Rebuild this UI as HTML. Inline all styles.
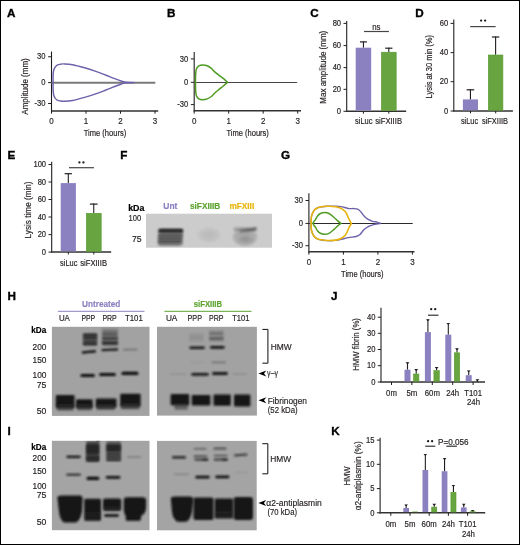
<!DOCTYPE html>
<html><head><meta charset="utf-8"><style>
html,body{margin:0;padding:0;background:#fff;}
svg{display:block;will-change:transform;}
text{font-family:"Liberation Sans", sans-serif;}
</style></head><body>
<svg width="520" height="545" viewBox="0 0 520 545">
<defs>
<radialGradient id="rg"><stop offset="0" stop-color="#333" stop-opacity="0.12"/><stop offset="0.6" stop-color="#333" stop-opacity="0.07"/><stop offset="1" stop-color="#333" stop-opacity="0"/></radialGradient>
<radialGradient id="rg2"><stop offset="0" stop-color="#333" stop-opacity="0.3"/><stop offset="0.7" stop-color="#333" stop-opacity="0.2"/><stop offset="1" stop-color="#333" stop-opacity="0"/></radialGradient>
<filter id="b1" filterUnits="userSpaceOnUse" x="0" y="0" width="520" height="545"><feGaussianBlur stdDeviation="0.85"/></filter>
<filter id="b2" filterUnits="userSpaceOnUse" x="0" y="0" width="520" height="545"><feGaussianBlur stdDeviation="1.2"/></filter>
<filter id="soft" filterUnits="userSpaceOnUse" x="0" y="0" width="520" height="545"><feGaussianBlur stdDeviation="0.3"/></filter>
<filter id="b3" filterUnits="userSpaceOnUse" x="0" y="0" width="520" height="545"><feGaussianBlur stdDeviation="2"/></filter>
<clipPath id="clipF"><rect x="146" y="213.7" width="126" height="34"/></clipPath>
<clipPath id="clipH"><rect x="51.9" y="326.8" width="97.6" height="89.1"/><rect x="157" y="326.8" width="99.9" height="88.8"/></clipPath>
<clipPath id="clipI"><rect x="51.9" y="440.8" width="97.6" height="89.4"/><rect x="157" y="440.9" width="99.7" height="89.4"/></clipPath>
</defs>
<rect x="0" y="0" width="520" height="545" fill="#fff"/>
<g filter="url(#soft)">
<text x="6.96" y="16.75" font-size="11.7" fill="#000" font-weight="bold" stroke="#000" stroke-width="0.35">A</text>
<text x="167.07" y="16.8" font-size="11.7" fill="#000" font-weight="bold" stroke="#000" stroke-width="0.35">B</text>
<text x="310.17" y="16.75" font-size="11.7" fill="#000" font-weight="bold" stroke="#000" stroke-width="0.35">C</text>
<text x="415.27" y="16.8" font-size="11.7" fill="#000" font-weight="bold" stroke="#000" stroke-width="0.35">D</text>
<text x="7.47" y="158.85" font-size="11.7" fill="#000" font-weight="bold" stroke="#000" stroke-width="0.35">E</text>
<text x="120.37" y="158.85" font-size="11.7" fill="#000" font-weight="bold" stroke="#000" stroke-width="0.35">F</text>
<text x="280.97" y="158.85" font-size="11.7" fill="#000" font-weight="bold" stroke="#000" stroke-width="0.35">G</text>
<text x="7.47" y="300" font-size="11.7" fill="#000" font-weight="bold" stroke="#000" stroke-width="0.35">H</text>
<text x="7.47" y="435" font-size="11.7" fill="#000" font-weight="bold" stroke="#000" stroke-width="0.35">I</text>
<text x="330.97" y="300.3" font-size="11.7" fill="#000" font-weight="bold" stroke="#000" stroke-width="0.35">J</text>
<text x="331.17" y="435.2" font-size="11.7" fill="#000" font-weight="bold" stroke="#000" stroke-width="0.35">K</text>
<line x1="51.5" y1="51.5" x2="51.5" y2="111.65" stroke="#231f20" stroke-width="1.1"/>
<line x1="51.0" y1="110.9" x2="158.2" y2="110.9" stroke="#333" stroke-width="1.5"/>
<line x1="48.1" y1="56.75" x2="51.5" y2="56.75" stroke="#231f20" stroke-width="1"/>
<line x1="48.1" y1="82.6" x2="51.5" y2="82.6" stroke="#231f20" stroke-width="1"/>
<line x1="48.1" y1="103.5" x2="51.5" y2="103.5" stroke="#231f20" stroke-width="1"/>
<line x1="51.5" y1="110.9" x2="51.5" y2="113.7" stroke="#231f20" stroke-width="1"/>
<line x1="86.0" y1="110.9" x2="86.0" y2="113.7" stroke="#231f20" stroke-width="1"/>
<line x1="120.5" y1="110.9" x2="120.5" y2="113.7" stroke="#231f20" stroke-width="1"/>
<line x1="155.0" y1="110.9" x2="155.0" y2="113.7" stroke="#231f20" stroke-width="1"/>
<line x1="51.5" y1="82.8" x2="155.3" y2="82.8" stroke="#7a7a7a" stroke-width="1.9"/>
<text x="45.5" y="59.35" font-size="8.74" text-anchor="end" fill="#231f20" font-weight="normal" stroke="#231f20" stroke-width="0.18" textLength="8.45" lengthAdjust="spacingAndGlyphs">30</text>
<text x="45.5" y="85.19999999999999" font-size="8.74" text-anchor="end" fill="#231f20" font-weight="normal" stroke="#231f20" stroke-width="0.18" textLength="4.23" lengthAdjust="spacingAndGlyphs">0</text>
<text x="45.5" y="106.1" font-size="8.74" text-anchor="end" fill="#231f20" font-weight="normal" stroke="#231f20" stroke-width="0.18" textLength="10.98" lengthAdjust="spacingAndGlyphs">-30</text>
<text x="51.5" y="123.9" font-size="9.2" text-anchor="middle" fill="#231f20" font-weight="normal" stroke="#231f20" stroke-width="0.18" textLength="4.45" lengthAdjust="spacingAndGlyphs">0</text>
<text x="86.0" y="123.9" font-size="9.2" text-anchor="middle" fill="#231f20" font-weight="normal" stroke="#231f20" stroke-width="0.18" textLength="4.45" lengthAdjust="spacingAndGlyphs">1</text>
<text x="120.5" y="123.9" font-size="9.2" text-anchor="middle" fill="#231f20" font-weight="normal" stroke="#231f20" stroke-width="0.18" textLength="4.45" lengthAdjust="spacingAndGlyphs">2</text>
<text x="155.0" y="123.9" font-size="9.2" text-anchor="middle" fill="#231f20" font-weight="normal" stroke="#231f20" stroke-width="0.18" textLength="4.45" lengthAdjust="spacingAndGlyphs">3</text>
<text x="104.95" y="136.1" font-size="9.2" text-anchor="middle" fill="#231f20" font-weight="normal" stroke="#231f20" stroke-width="0.18" textLength="42.5" lengthAdjust="spacingAndGlyphs">Time (hours)</text>
<text transform="translate(28.2,86.5) rotate(-90)" x="0" y="0" font-size="9.2" text-anchor="middle" fill="#231f20" stroke="#231f20" stroke-width="0.18" textLength="56.4" lengthAdjust="spacingAndGlyphs">Amplitude (mm)</text>
<path d="M53.10,82.60 C53.10,81.50 52.98,78.13 53.10,76.00 C53.22,73.87 53.22,71.55 53.80,69.80 C54.38,68.05 55.48,66.43 56.60,65.50 C57.72,64.57 59.27,64.47 60.50,64.20 C61.73,63.93 62.00,63.82 64.00,63.90 C66.00,63.98 69.07,64.05 72.50,64.70 C75.93,65.35 80.85,66.73 84.60,67.80 C88.35,68.87 91.53,69.90 95.00,71.10 C98.47,72.30 102.23,73.78 105.40,75.00 C108.57,76.22 111.40,77.40 114.00,78.40 C116.60,79.40 118.98,80.35 121.00,81.00 C123.02,81.65 123.93,82.03 126.10,82.30 C128.27,82.57 132.68,82.55 134.00,82.60" fill="none" stroke="#6d62ab" stroke-width="1.45" stroke-linecap="round"/>
<path d="M53.10,82.60 C53.10,83.70 52.98,87.07 53.10,89.20 C53.22,91.33 53.22,93.65 53.80,95.40 C54.38,97.15 55.48,98.77 56.60,99.70 C57.72,100.63 59.27,100.73 60.50,101.00 C61.73,101.27 62.00,101.38 64.00,101.30 C66.00,101.22 69.07,101.15 72.50,100.50 C75.93,99.85 80.85,98.47 84.60,97.40 C88.35,96.33 91.53,95.30 95.00,94.10 C98.47,92.90 102.23,91.42 105.40,90.20 C108.57,88.98 111.40,87.80 114.00,86.80 C116.60,85.80 118.98,84.85 121.00,84.20 C123.02,83.55 123.93,83.17 126.10,82.90 C128.27,82.63 132.68,82.65 134.00,82.60" fill="none" stroke="#6d62ab" stroke-width="1.45" stroke-linecap="round"/>
<line x1="194.2" y1="51.9" x2="194.2" y2="111.55" stroke="#231f20" stroke-width="1.1"/>
<line x1="193.7" y1="110.8" x2="301" y2="110.8" stroke="#333" stroke-width="1.5"/>
<line x1="190.79999999999998" y1="58.9" x2="194.2" y2="58.9" stroke="#231f20" stroke-width="1"/>
<line x1="190.79999999999998" y1="82.3" x2="194.2" y2="82.3" stroke="#231f20" stroke-width="1"/>
<line x1="190.79999999999998" y1="104.6" x2="194.2" y2="104.6" stroke="#231f20" stroke-width="1"/>
<line x1="194.2" y1="110.8" x2="194.2" y2="113.6" stroke="#231f20" stroke-width="1"/>
<line x1="228.7" y1="110.8" x2="228.7" y2="113.6" stroke="#231f20" stroke-width="1"/>
<line x1="263.2" y1="110.8" x2="263.2" y2="113.6" stroke="#231f20" stroke-width="1"/>
<line x1="297.7" y1="110.8" x2="297.7" y2="113.6" stroke="#231f20" stroke-width="1"/>
<line x1="194.2" y1="82.5" x2="297.2" y2="82.5" stroke="#444" stroke-width="1.2"/>
<text x="188.2" y="61.5" font-size="8.74" text-anchor="end" fill="#231f20" font-weight="normal" stroke="#231f20" stroke-width="0.18" textLength="8.45" lengthAdjust="spacingAndGlyphs">30</text>
<text x="188.2" y="84.89999999999999" font-size="8.74" text-anchor="end" fill="#231f20" font-weight="normal" stroke="#231f20" stroke-width="0.18" textLength="4.23" lengthAdjust="spacingAndGlyphs">0</text>
<text x="188.2" y="107.19999999999999" font-size="8.74" text-anchor="end" fill="#231f20" font-weight="normal" stroke="#231f20" stroke-width="0.18" textLength="10.98" lengthAdjust="spacingAndGlyphs">-30</text>
<text x="194.2" y="123.8" font-size="9.2" text-anchor="middle" fill="#231f20" font-weight="normal" stroke="#231f20" stroke-width="0.18" textLength="4.45" lengthAdjust="spacingAndGlyphs">0</text>
<text x="228.7" y="123.8" font-size="9.2" text-anchor="middle" fill="#231f20" font-weight="normal" stroke="#231f20" stroke-width="0.18" textLength="4.45" lengthAdjust="spacingAndGlyphs">1</text>
<text x="263.2" y="123.8" font-size="9.2" text-anchor="middle" fill="#231f20" font-weight="normal" stroke="#231f20" stroke-width="0.18" textLength="4.45" lengthAdjust="spacingAndGlyphs">2</text>
<text x="297.7" y="123.8" font-size="9.2" text-anchor="middle" fill="#231f20" font-weight="normal" stroke="#231f20" stroke-width="0.18" textLength="4.45" lengthAdjust="spacingAndGlyphs">3</text>
<text x="247.64999999999998" y="136.0" font-size="9.2" text-anchor="middle" fill="#231f20" font-weight="normal" stroke="#231f20" stroke-width="0.18" textLength="42.5" lengthAdjust="spacingAndGlyphs">Time (hours)</text>
<path d="M195.50,82.30 C195.52,81.08 195.45,77.22 195.60,75.00 C195.75,72.78 195.87,70.53 196.40,69.00 C196.93,67.47 197.73,66.48 198.80,65.80 C199.87,65.12 201.40,64.92 202.80,64.90 C204.20,64.88 205.82,65.17 207.20,65.70 C208.58,66.23 209.93,67.15 211.10,68.10 C212.27,69.05 212.92,70.23 214.20,71.40 C215.48,72.57 217.23,73.90 218.80,75.10 C220.37,76.30 222.17,77.42 223.60,78.60 C225.03,79.78 226.77,81.60 227.40,82.20" fill="none" stroke="#4f9b22" stroke-width="1.5" stroke-linecap="round"/>
<path d="M195.50,82.30 C195.52,83.58 195.45,87.75 195.60,90.00 C195.75,92.25 195.87,94.32 196.40,95.80 C196.93,97.28 197.77,98.25 198.80,98.90 C199.83,99.55 201.20,99.70 202.60,99.70 C204.00,99.70 205.63,99.52 207.20,98.90 C208.77,98.28 210.70,97.03 212.00,96.00 C213.30,94.97 213.72,93.88 215.00,92.70 C216.28,91.52 218.27,90.07 219.70,88.90 C221.13,87.73 222.32,86.78 223.60,85.70 C224.88,84.62 226.77,82.95 227.40,82.40" fill="none" stroke="#4f9b22" stroke-width="1.5" stroke-linecap="round"/>
<line x1="308.9" y1="193.2" x2="308.9" y2="252.55" stroke="#231f20" stroke-width="1.1"/>
<line x1="308.4" y1="251.8" x2="414.5" y2="251.8" stroke="#333" stroke-width="1.5"/>
<line x1="305.5" y1="200.5" x2="308.9" y2="200.5" stroke="#231f20" stroke-width="1"/>
<line x1="305.5" y1="223.4" x2="308.9" y2="223.4" stroke="#231f20" stroke-width="1"/>
<line x1="305.5" y1="245.7" x2="308.9" y2="245.7" stroke="#231f20" stroke-width="1"/>
<line x1="308.9" y1="251.8" x2="308.9" y2="254.60000000000002" stroke="#231f20" stroke-width="1"/>
<line x1="343.4" y1="251.8" x2="343.4" y2="254.60000000000002" stroke="#231f20" stroke-width="1"/>
<line x1="377.9" y1="251.8" x2="377.9" y2="254.60000000000002" stroke="#231f20" stroke-width="1"/>
<line x1="412.4" y1="251.8" x2="412.4" y2="254.60000000000002" stroke="#231f20" stroke-width="1"/>
<line x1="308.9" y1="223.5" x2="412.7" y2="223.5" stroke="#2a2a2a" stroke-width="1.1"/>
<text x="302.9" y="203.1" font-size="8.74" text-anchor="end" fill="#231f20" font-weight="normal" stroke="#231f20" stroke-width="0.18" textLength="8.45" lengthAdjust="spacingAndGlyphs">30</text>
<text x="302.9" y="226.0" font-size="8.74" text-anchor="end" fill="#231f20" font-weight="normal" stroke="#231f20" stroke-width="0.18" textLength="4.23" lengthAdjust="spacingAndGlyphs">0</text>
<text x="302.9" y="248.29999999999998" font-size="8.74" text-anchor="end" fill="#231f20" font-weight="normal" stroke="#231f20" stroke-width="0.18" textLength="10.98" lengthAdjust="spacingAndGlyphs">-30</text>
<text x="308.9" y="264.8" font-size="9.2" text-anchor="middle" fill="#231f20" font-weight="normal" stroke="#231f20" stroke-width="0.18" textLength="4.45" lengthAdjust="spacingAndGlyphs">0</text>
<text x="343.4" y="264.8" font-size="9.2" text-anchor="middle" fill="#231f20" font-weight="normal" stroke="#231f20" stroke-width="0.18" textLength="4.45" lengthAdjust="spacingAndGlyphs">1</text>
<text x="377.9" y="264.8" font-size="9.2" text-anchor="middle" fill="#231f20" font-weight="normal" stroke="#231f20" stroke-width="0.18" textLength="4.45" lengthAdjust="spacingAndGlyphs">2</text>
<text x="412.4" y="264.8" font-size="9.2" text-anchor="middle" fill="#231f20" font-weight="normal" stroke="#231f20" stroke-width="0.18" textLength="4.45" lengthAdjust="spacingAndGlyphs">3</text>
<text x="362.34999999999997" y="277.0" font-size="9.2" text-anchor="middle" fill="#231f20" font-weight="normal" stroke="#231f20" stroke-width="0.18" textLength="42.5" lengthAdjust="spacingAndGlyphs">Time (hours)</text>
<path d="M311.10,223.40 C311.13,222.42 311.10,219.10 311.30,217.50 C311.50,215.90 311.72,215.12 312.30,213.80 C312.88,212.48 313.62,210.70 314.80,209.60 C315.98,208.50 317.35,207.77 319.40,207.20 C321.45,206.63 324.50,206.37 327.10,206.20 C329.70,206.03 332.72,206.13 335.00,206.20 C337.28,206.27 338.88,206.30 340.80,206.60 C342.72,206.90 345.07,207.67 346.50,208.00 C347.93,208.33 348.12,208.50 349.40,208.60 C350.68,208.70 352.75,208.47 354.20,208.60 C355.65,208.73 356.97,208.83 358.10,209.40 C359.23,209.97 360.05,210.93 361.00,212.00 C361.95,213.07 362.68,214.60 363.80,215.80 C364.92,217.00 366.25,218.28 367.70,219.20 C369.15,220.12 370.90,220.82 372.50,221.30 C374.10,221.78 375.98,221.77 377.30,222.10 C378.62,222.43 379.88,223.10 380.40,223.30" fill="none" stroke="#6d62ab" stroke-width="1.4" stroke-linecap="round"/>
<path d="M311.10,223.40 C311.13,224.38 311.10,227.70 311.30,229.30 C311.50,230.90 311.72,231.68 312.30,233.00 C312.88,234.32 313.62,236.10 314.80,237.20 C315.98,238.30 317.35,239.03 319.40,239.60 C321.45,240.17 324.50,240.47 327.10,240.60 C329.70,240.73 332.08,240.75 335.00,240.40 C337.92,240.05 342.20,239.00 344.60,238.50 C347.00,238.00 347.47,237.73 349.40,237.40 C351.33,237.07 354.43,236.98 356.20,236.50 C357.97,236.02 358.73,235.62 360.00,234.50 C361.27,233.38 362.35,231.15 363.80,229.80 C365.25,228.45 367.08,227.25 368.70,226.40 C370.32,225.55 372.03,225.12 373.50,224.70 C374.97,224.28 376.35,224.10 377.50,223.90 C378.65,223.70 379.92,223.57 380.40,223.50" fill="none" stroke="#6d62ab" stroke-width="1.4" stroke-linecap="round"/>
<path d="M311.10,223.40 C311.13,222.42 311.10,219.10 311.30,217.50 C311.50,215.90 311.72,215.12 312.30,213.80 C312.88,212.48 313.62,210.70 314.80,209.60 C315.98,208.50 317.35,207.75 319.40,207.20 C321.45,206.65 324.37,206.38 327.10,206.30 C329.83,206.22 333.42,206.33 335.80,206.70 C338.18,207.07 339.83,207.70 341.40,208.50 C342.97,209.30 344.22,210.37 345.20,211.50 C346.18,212.63 346.70,214.08 347.30,215.30 C347.90,216.52 348.13,217.47 348.80,218.80 C349.47,220.13 350.88,222.55 351.30,223.30" fill="none" stroke="#e8b40a" stroke-width="1.6" stroke-linecap="round"/>
<path d="M311.10,223.40 C311.13,224.38 311.10,227.70 311.30,229.30 C311.50,230.90 311.72,231.68 312.30,233.00 C312.88,234.32 313.62,236.10 314.80,237.20 C315.98,238.30 317.35,239.05 319.40,239.60 C321.45,240.15 324.37,240.42 327.10,240.50 C329.83,240.58 333.42,240.47 335.80,240.10 C338.18,239.73 339.83,239.10 341.40,238.30 C342.97,237.50 344.22,236.43 345.20,235.30 C346.18,234.17 346.70,232.72 347.30,231.50 C347.90,230.28 348.13,229.33 348.80,228.00 C349.47,226.67 350.88,224.25 351.30,223.50" fill="none" stroke="#e8b40a" stroke-width="1.6" stroke-linecap="round"/>
<path d="M313.00,223.40 C313.18,223.03 313.67,221.87 314.10,221.20 C314.53,220.53 315.03,220.27 315.60,219.40 C316.17,218.53 316.70,216.98 317.50,216.00 C318.30,215.02 319.20,214.08 320.40,213.50 C321.60,212.92 323.27,212.50 324.70,212.50 C326.13,212.50 327.48,212.72 329.00,213.50 C330.52,214.28 332.35,215.97 333.80,217.20 C335.25,218.43 336.53,219.88 337.70,220.90 C338.87,221.92 340.28,222.90 340.80,223.30" fill="none" stroke="#4f9b22" stroke-width="1.5" stroke-linecap="round"/>
<path d="M313.00,223.40 C313.18,223.77 313.67,224.93 314.10,225.60 C314.53,226.27 315.03,226.53 315.60,227.40 C316.17,228.27 316.70,229.82 317.50,230.80 C318.30,231.78 319.20,232.72 320.40,233.30 C321.60,233.88 323.27,234.30 324.70,234.30 C326.13,234.30 327.48,234.08 329.00,233.30 C330.52,232.52 332.35,230.83 333.80,229.60 C335.25,228.37 336.53,226.92 337.70,225.90 C338.87,224.88 340.28,223.90 340.80,223.50" fill="none" stroke="#4f9b22" stroke-width="1.5" stroke-linecap="round"/>
<line x1="346.7" y1="20.9" x2="346.7" y2="111.89999999999999" stroke="#231f20" stroke-width="1.1"/>
<line x1="346.2" y1="111.3" x2="406.2" y2="111.3" stroke="#333" stroke-width="1.5"/>
<line x1="343.5" y1="23.4" x2="346.7" y2="23.4" stroke="#231f20" stroke-width="1"/>
<text x="341.09999999999997" y="26.099999999999998" font-size="8.74" text-anchor="end" fill="#231f20" font-weight="normal" stroke="#231f20" stroke-width="0.18" textLength="8.45" lengthAdjust="spacingAndGlyphs">80</text>
<line x1="343.5" y1="45.6" x2="346.7" y2="45.6" stroke="#231f20" stroke-width="1"/>
<text x="341.09999999999997" y="48.300000000000004" font-size="8.74" text-anchor="end" fill="#231f20" font-weight="normal" stroke="#231f20" stroke-width="0.18" textLength="8.45" lengthAdjust="spacingAndGlyphs">60</text>
<line x1="343.5" y1="67.6" x2="346.7" y2="67.6" stroke="#231f20" stroke-width="1"/>
<text x="341.09999999999997" y="70.3" font-size="8.74" text-anchor="end" fill="#231f20" font-weight="normal" stroke="#231f20" stroke-width="0.18" textLength="8.45" lengthAdjust="spacingAndGlyphs">40</text>
<line x1="343.5" y1="89.3" x2="346.7" y2="89.3" stroke="#231f20" stroke-width="1"/>
<text x="341.09999999999997" y="92.0" font-size="8.74" text-anchor="end" fill="#231f20" font-weight="normal" stroke="#231f20" stroke-width="0.18" textLength="8.45" lengthAdjust="spacingAndGlyphs">20</text>
<line x1="343.5" y1="111.3" x2="346.7" y2="111.3" stroke="#231f20" stroke-width="1"/>
<text x="341.09999999999997" y="114.0" font-size="8.74" text-anchor="end" fill="#231f20" font-weight="normal" stroke="#231f20" stroke-width="0.18" textLength="4.23" lengthAdjust="spacingAndGlyphs">0</text>
<line x1="363.45" y1="41.4" x2="363.45" y2="47.7" stroke="#231f20" stroke-width="1.1"/>
<line x1="359.95" y1="41.9" x2="366.95" y2="41.9" stroke="#231f20" stroke-width="1.2"/>
<rect x="355.7" y="47.7" width="15.5" height="62.849999999999994" fill="#8b81c1"/>
<line x1="388.8" y1="47.7" x2="388.8" y2="51.9" stroke="#231f20" stroke-width="1.1"/>
<line x1="385.2" y1="48.2" x2="392.40000000000003" y2="48.2" stroke="#231f20" stroke-width="1.2"/>
<rect x="381.40000000000003" y="52.199999999999996" width="14.799999999999978" height="58.35" fill="#67a53f" stroke="#58992f" stroke-width="0.6"/>
<line x1="363.4" y1="111.3" x2="363.4" y2="113.7" stroke="#231f20" stroke-width="1"/>
<line x1="388.8" y1="111.3" x2="388.8" y2="113.7" stroke="#231f20" stroke-width="1"/>
<line x1="364" y1="31.5" x2="388.9" y2="31.5" stroke="#444" stroke-width="1.2"/>
<text x="376.4" y="29.6" font-size="8.97" text-anchor="middle" fill="#231f20" font-weight="normal" stroke="#231f20" stroke-width="0.18" textLength="8.24" lengthAdjust="spacingAndGlyphs">ns</text>
<text x="363.7" y="124.2" font-size="8.97" text-anchor="middle" fill="#231f20" font-weight="normal" stroke="#231f20" stroke-width="0.18" textLength="17.4" lengthAdjust="spacingAndGlyphs">siLuc</text>
<text x="388.6" y="124.2" font-size="8.97" text-anchor="middle" fill="#231f20" font-weight="normal" stroke="#231f20" stroke-width="0.18" textLength="26.8" lengthAdjust="spacingAndGlyphs">siFXIIIB</text>
<text transform="translate(326.2,67.25) rotate(-90)" x="0" y="0" font-size="9.2" text-anchor="middle" fill="#231f20" stroke="#231f20" stroke-width="0.18" textLength="72.9" lengthAdjust="spacingAndGlyphs">Max amplitude (mm)</text>
<line x1="453.8" y1="19.6" x2="453.8" y2="111.6" stroke="#231f20" stroke-width="1.1"/>
<line x1="453.3" y1="111" x2="512.9" y2="111" stroke="#333" stroke-width="1.5"/>
<line x1="450.6" y1="23.4" x2="453.8" y2="23.4" stroke="#231f20" stroke-width="1"/>
<text x="448.2" y="26.099999999999998" font-size="8.74" text-anchor="end" fill="#231f20" font-weight="normal" stroke="#231f20" stroke-width="0.18" textLength="8.45" lengthAdjust="spacingAndGlyphs">60</text>
<line x1="450.6" y1="52.6" x2="453.8" y2="52.6" stroke="#231f20" stroke-width="1"/>
<text x="448.2" y="55.300000000000004" font-size="8.74" text-anchor="end" fill="#231f20" font-weight="normal" stroke="#231f20" stroke-width="0.18" textLength="8.45" lengthAdjust="spacingAndGlyphs">40</text>
<line x1="450.6" y1="81.7" x2="453.8" y2="81.7" stroke="#231f20" stroke-width="1"/>
<text x="448.2" y="84.4" font-size="8.74" text-anchor="end" fill="#231f20" font-weight="normal" stroke="#231f20" stroke-width="0.18" textLength="8.45" lengthAdjust="spacingAndGlyphs">20</text>
<line x1="450.6" y1="111" x2="453.8" y2="111" stroke="#231f20" stroke-width="1"/>
<text x="448.2" y="113.7" font-size="8.74" text-anchor="end" fill="#231f20" font-weight="normal" stroke="#231f20" stroke-width="0.18" textLength="4.23" lengthAdjust="spacingAndGlyphs">0</text>
<line x1="470.45" y1="89.3" x2="470.45" y2="99.4" stroke="#231f20" stroke-width="1.1"/>
<line x1="466.65" y1="89.8" x2="474.25" y2="89.8" stroke="#231f20" stroke-width="1.2"/>
<rect x="462.9" y="99.4" width="15.100000000000023" height="10.849999999999994" fill="#8b81c1"/>
<line x1="495.6" y1="36.5" x2="495.6" y2="54.7" stroke="#231f20" stroke-width="1.1"/>
<line x1="491.90000000000003" y1="37.0" x2="499.3" y2="37.0" stroke="#231f20" stroke-width="1.2"/>
<rect x="488.3" y="55.0" width="14.599999999999989" height="55.25" fill="#67a53f" stroke="#58992f" stroke-width="0.6"/>
<line x1="470.5" y1="111" x2="470.5" y2="113.4" stroke="#231f20" stroke-width="1"/>
<line x1="495.7" y1="111" x2="495.7" y2="113.4" stroke="#231f20" stroke-width="1"/>
<line x1="470.2" y1="26.6" x2="495.6" y2="26.6" stroke="#444" stroke-width="1.2"/>
<circle cx="481.1" cy="20.6" r="1.15" fill="#1a1a1a"/><circle cx="485.1" cy="20.6" r="1.15" fill="#1a1a1a"/>
<text x="469.5" y="124.2" font-size="8.97" text-anchor="middle" fill="#231f20" font-weight="normal" stroke="#231f20" stroke-width="0.18" textLength="17.2" lengthAdjust="spacingAndGlyphs">siLuc</text>
<text x="495" y="124.2" font-size="8.97" text-anchor="middle" fill="#231f20" font-weight="normal" stroke="#231f20" stroke-width="0.18" textLength="26.2" lengthAdjust="spacingAndGlyphs">siFXIIIB</text>
<text transform="translate(432.2,66.7) rotate(-90)" x="0" y="0" font-size="9.2" text-anchor="middle" fill="#231f20" stroke="#231f20" stroke-width="0.18" textLength="63.4" lengthAdjust="spacingAndGlyphs">Lysis at 30 min (%)</text>
<line x1="51.7" y1="161.8" x2="51.7" y2="252.7" stroke="#231f20" stroke-width="1.1"/>
<line x1="51.2" y1="252.1" x2="111.2" y2="252.1" stroke="#333" stroke-width="1.5"/>
<line x1="48.5" y1="164.5" x2="51.7" y2="164.5" stroke="#231f20" stroke-width="1"/>
<text x="46.1" y="167.2" font-size="8.74" text-anchor="end" fill="#231f20" font-weight="normal" stroke="#231f20" stroke-width="0.18" textLength="12.68" lengthAdjust="spacingAndGlyphs">100</text>
<line x1="48.5" y1="182" x2="51.7" y2="182" stroke="#231f20" stroke-width="1"/>
<text x="46.1" y="184.7" font-size="8.74" text-anchor="end" fill="#231f20" font-weight="normal" stroke="#231f20" stroke-width="0.18" textLength="8.45" lengthAdjust="spacingAndGlyphs">80</text>
<line x1="48.5" y1="199.5" x2="51.7" y2="199.5" stroke="#231f20" stroke-width="1"/>
<text x="46.1" y="202.2" font-size="8.74" text-anchor="end" fill="#231f20" font-weight="normal" stroke="#231f20" stroke-width="0.18" textLength="8.45" lengthAdjust="spacingAndGlyphs">60</text>
<line x1="48.5" y1="217" x2="51.7" y2="217" stroke="#231f20" stroke-width="1"/>
<text x="46.1" y="219.7" font-size="8.74" text-anchor="end" fill="#231f20" font-weight="normal" stroke="#231f20" stroke-width="0.18" textLength="8.45" lengthAdjust="spacingAndGlyphs">40</text>
<line x1="48.5" y1="234.6" x2="51.7" y2="234.6" stroke="#231f20" stroke-width="1"/>
<text x="46.1" y="237.29999999999998" font-size="8.74" text-anchor="end" fill="#231f20" font-weight="normal" stroke="#231f20" stroke-width="0.18" textLength="8.45" lengthAdjust="spacingAndGlyphs">20</text>
<line x1="48.5" y1="252.1" x2="51.7" y2="252.1" stroke="#231f20" stroke-width="1"/>
<text x="46.1" y="254.79999999999998" font-size="8.74" text-anchor="end" fill="#231f20" font-weight="normal" stroke="#231f20" stroke-width="0.18" textLength="4.23" lengthAdjust="spacingAndGlyphs">0</text>
<line x1="68.30000000000001" y1="173.2" x2="68.30000000000001" y2="183.1" stroke="#231f20" stroke-width="1.1"/>
<line x1="64.65" y1="173.7" x2="71.95000000000002" y2="173.7" stroke="#231f20" stroke-width="1.2"/>
<rect x="60.7" y="183.1" width="15.200000000000003" height="68.25" fill="#8b81c1"/>
<line x1="93.75" y1="203.6" x2="93.75" y2="213" stroke="#231f20" stroke-width="1.1"/>
<line x1="89.9" y1="204.1" x2="97.6" y2="204.1" stroke="#231f20" stroke-width="1.2"/>
<rect x="86.3" y="213.3" width="14.9" height="38.05" fill="#67a53f" stroke="#58992f" stroke-width="0.6"/>
<line x1="68.3" y1="252.1" x2="68.3" y2="254.5" stroke="#231f20" stroke-width="1"/>
<line x1="93.8" y1="252.1" x2="93.8" y2="254.5" stroke="#231f20" stroke-width="1"/>
<line x1="69" y1="167.7" x2="93.9" y2="167.7" stroke="#444" stroke-width="1.2"/>
<circle cx="79.4" cy="162.4" r="1.15" fill="#1a1a1a"/><circle cx="83.4" cy="162.4" r="1.15" fill="#1a1a1a"/>
<text x="68.7" y="265.9" font-size="8.97" text-anchor="middle" fill="#231f20" font-weight="normal" stroke="#231f20" stroke-width="0.18" textLength="17.3" lengthAdjust="spacingAndGlyphs">siLuc</text>
<text x="93.6" y="265.9" font-size="8.97" text-anchor="middle" fill="#231f20" font-weight="normal" stroke="#231f20" stroke-width="0.18" textLength="26.8" lengthAdjust="spacingAndGlyphs">siFXIIIB</text>
<text transform="translate(30.7,209.9) rotate(-90)" x="0" y="0" font-size="9.2" text-anchor="middle" fill="#231f20" stroke="#231f20" stroke-width="0.18" textLength="57" lengthAdjust="spacingAndGlyphs">Lysis time (min)</text>
<line x1="381" y1="307.7" x2="381" y2="382.6" stroke="#231f20" stroke-width="1.1"/>
<line x1="380.5" y1="382" x2="485" y2="382" stroke="#333" stroke-width="1.5"/>
<line x1="377.8" y1="317.2" x2="381" y2="317.2" stroke="#231f20" stroke-width="1"/>
<text x="375.4" y="319.9" font-size="8.74" text-anchor="end" fill="#231f20" font-weight="normal" stroke="#231f20" stroke-width="0.18" textLength="8.45" lengthAdjust="spacingAndGlyphs">40</text>
<line x1="377.8" y1="333.3" x2="381" y2="333.3" stroke="#231f20" stroke-width="1"/>
<text x="375.4" y="336.0" font-size="8.74" text-anchor="end" fill="#231f20" font-weight="normal" stroke="#231f20" stroke-width="0.18" textLength="8.45" lengthAdjust="spacingAndGlyphs">30</text>
<line x1="377.8" y1="349.5" x2="381" y2="349.5" stroke="#231f20" stroke-width="1"/>
<text x="375.4" y="352.2" font-size="8.74" text-anchor="end" fill="#231f20" font-weight="normal" stroke="#231f20" stroke-width="0.18" textLength="8.45" lengthAdjust="spacingAndGlyphs">20</text>
<line x1="377.8" y1="365.7" x2="381" y2="365.7" stroke="#231f20" stroke-width="1"/>
<text x="375.4" y="368.4" font-size="8.74" text-anchor="end" fill="#231f20" font-weight="normal" stroke="#231f20" stroke-width="0.18" textLength="8.45" lengthAdjust="spacingAndGlyphs">10</text>
<line x1="377.8" y1="382" x2="381" y2="382" stroke="#231f20" stroke-width="1"/>
<text x="375.4" y="384.7" font-size="8.74" text-anchor="end" fill="#231f20" font-weight="normal" stroke="#231f20" stroke-width="0.18" textLength="4.23" lengthAdjust="spacingAndGlyphs">0</text>
<line x1="391.5" y1="382" x2="391.5" y2="385" stroke="#231f20" stroke-width="1"/>
<line x1="411.9" y1="382" x2="411.9" y2="385" stroke="#231f20" stroke-width="1"/>
<line x1="407.5" y1="362.6" x2="407.5" y2="369.7" stroke="#231f20" stroke-width="1.1"/>
<path d="M405.60,362.30 L409.40,362.30 L408.00,364.00 L407.00,364.00 Z" fill="#231f20"/>
<rect x="404.5" y="369.7" width="6.0" height="11.550000000000011" fill="#8b81c1"/>
<line x1="416.2" y1="369.3" x2="416.2" y2="373.7" stroke="#231f20" stroke-width="1.1"/>
<path d="M414.30,369.00 L418.10,369.00 L416.70,370.70 L415.70,370.70 Z" fill="#231f20"/>
<rect x="413.5" y="374.0" width="5.4" height="7.2500000000000115" fill="#67a53f" stroke="#58992f" stroke-width="0.6"/>
<line x1="432.3" y1="382" x2="432.3" y2="385" stroke="#231f20" stroke-width="1"/>
<line x1="427.90000000000003" y1="319.6" x2="427.90000000000003" y2="332.1" stroke="#231f20" stroke-width="1.1"/>
<path d="M426.00,319.30 L429.80,319.30 L428.40,321.00 L427.40,321.00 Z" fill="#231f20"/>
<rect x="424.90000000000003" y="332.1" width="6.0" height="49.14999999999998" fill="#8b81c1"/>
<line x1="436.6" y1="367.3" x2="436.6" y2="370.3" stroke="#231f20" stroke-width="1.1"/>
<path d="M434.70,367.00 L438.50,367.00 L437.10,368.70 L436.10,368.70 Z" fill="#231f20"/>
<rect x="433.90000000000003" y="370.6" width="5.4" height="10.649999999999988" fill="#67a53f" stroke="#58992f" stroke-width="0.6"/>
<line x1="452.7" y1="382" x2="452.7" y2="385" stroke="#231f20" stroke-width="1"/>
<line x1="448.3" y1="323.2" x2="448.3" y2="334.7" stroke="#231f20" stroke-width="1.1"/>
<path d="M446.40,322.90 L450.20,322.90 L448.80,324.60 L447.80,324.60 Z" fill="#231f20"/>
<rect x="445.3" y="334.7" width="6.0" height="46.55000000000001" fill="#8b81c1"/>
<line x1="457.0" y1="348.5" x2="457.0" y2="352.5" stroke="#231f20" stroke-width="1.1"/>
<path d="M455.10,348.20 L458.90,348.20 L457.50,349.90 L456.50,349.90 Z" fill="#231f20"/>
<rect x="454.3" y="352.8" width="5.4" height="28.45" fill="#67a53f" stroke="#58992f" stroke-width="0.6"/>
<line x1="473.1" y1="382" x2="473.1" y2="385" stroke="#231f20" stroke-width="1"/>
<line x1="468.70000000000005" y1="370.7" x2="468.70000000000005" y2="375.2" stroke="#231f20" stroke-width="1.1"/>
<path d="M466.80,370.40 L470.60,370.40 L469.20,372.10 L468.20,372.10 Z" fill="#231f20"/>
<rect x="465.70000000000005" y="375.2" width="6.0" height="6.050000000000011" fill="#8b81c1"/>
<line x1="477.40000000000003" y1="379.6" x2="477.40000000000003" y2="382.0" stroke="#231f20" stroke-width="1.1"/>
<path d="M475.50,379.30 L479.30,379.30 L477.90,381.00 L476.90,381.00 Z" fill="#231f20"/>
<line x1="428" y1="315.2" x2="438.5" y2="315.2" stroke="#231f20" stroke-width="1.1"/>
<circle cx="431.2" cy="309.2" r="1.15" fill="#1a1a1a"/><circle cx="435.2" cy="309.2" r="1.15" fill="#1a1a1a"/>
<text x="391.5" y="396" font-size="8.97" text-anchor="middle" fill="#231f20" font-weight="normal" stroke="#231f20" stroke-width="0.18" textLength="10.84" lengthAdjust="spacingAndGlyphs">0m</text>
<text x="411.9" y="396" font-size="8.97" text-anchor="middle" fill="#231f20" font-weight="normal" stroke="#231f20" stroke-width="0.18" textLength="10.84" lengthAdjust="spacingAndGlyphs">5m</text>
<text x="432.3" y="396" font-size="8.97" text-anchor="middle" fill="#231f20" font-weight="normal" stroke="#231f20" stroke-width="0.18" textLength="15.17" lengthAdjust="spacingAndGlyphs">60m</text>
<text x="452.7" y="396" font-size="8.97" text-anchor="middle" fill="#231f20" font-weight="normal" stroke="#231f20" stroke-width="0.18" textLength="13.01" lengthAdjust="spacingAndGlyphs">24h</text>
<text x="473.1" y="396" font-size="8.97" text-anchor="middle" fill="#231f20" font-weight="normal" stroke="#231f20" stroke-width="0.18" textLength="17.78" lengthAdjust="spacingAndGlyphs">T101</text>
<text x="473.5" y="405.2" font-size="8.97" text-anchor="middle" fill="#231f20" font-weight="normal" stroke="#231f20" stroke-width="0.18" textLength="13.01" lengthAdjust="spacingAndGlyphs">24h</text>
<text transform="translate(359,344.4) rotate(-90)" x="0" y="0" font-size="9.2" text-anchor="middle" fill="#231f20" stroke="#231f20" stroke-width="0.18" textLength="52.7" lengthAdjust="spacingAndGlyphs">HMW fibrin (%)</text>
<line x1="380.1" y1="437.7" x2="380.1" y2="513.4" stroke="#231f20" stroke-width="1.1"/>
<line x1="379.6" y1="512.8" x2="485.2" y2="512.8" stroke="#333" stroke-width="1.5"/>
<line x1="376.90000000000003" y1="440.1" x2="380.1" y2="440.1" stroke="#231f20" stroke-width="1"/>
<text x="374.5" y="442.8" font-size="8.74" text-anchor="end" fill="#231f20" font-weight="normal" stroke="#231f20" stroke-width="0.18" textLength="8.45" lengthAdjust="spacingAndGlyphs">15</text>
<line x1="376.90000000000003" y1="464.3" x2="380.1" y2="464.3" stroke="#231f20" stroke-width="1"/>
<text x="374.5" y="467.0" font-size="8.74" text-anchor="end" fill="#231f20" font-weight="normal" stroke="#231f20" stroke-width="0.18" textLength="8.45" lengthAdjust="spacingAndGlyphs">10</text>
<line x1="376.90000000000003" y1="488.6" x2="380.1" y2="488.6" stroke="#231f20" stroke-width="1"/>
<text x="374.5" y="491.3" font-size="8.74" text-anchor="end" fill="#231f20" font-weight="normal" stroke="#231f20" stroke-width="0.18" textLength="4.23" lengthAdjust="spacingAndGlyphs">5</text>
<line x1="376.90000000000003" y1="512.8" x2="380.1" y2="512.8" stroke="#231f20" stroke-width="1"/>
<text x="374.5" y="515.5" font-size="8.74" text-anchor="end" fill="#231f20" font-weight="normal" stroke="#231f20" stroke-width="0.18" textLength="4.23" lengthAdjust="spacingAndGlyphs">0</text>
<line x1="390.8" y1="512.8" x2="390.8" y2="515.8" stroke="#231f20" stroke-width="1"/>
<line x1="410.0" y1="512.8" x2="410.0" y2="515.8" stroke="#231f20" stroke-width="1"/>
<line x1="406.15" y1="504.7" x2="406.15" y2="508" stroke="#231f20" stroke-width="1.1"/>
<path d="M404.35,504.40 L407.95,504.40 L406.65,506.10 L405.65,506.10 Z" fill="#231f20"/>
<rect x="403.3" y="508" width="5.699999999999989" height="4.0499999999999545" fill="#8b81c1"/>
<rect x="412.2" y="511.6" width="5.7" height="0.599999999999909" fill="#4f9b22"/>
<line x1="429.2" y1="512.8" x2="429.2" y2="515.8" stroke="#231f20" stroke-width="1"/>
<line x1="425.35" y1="454.2" x2="425.35" y2="470" stroke="#231f20" stroke-width="1.1"/>
<path d="M423.55,453.90 L427.15,453.90 L425.85,455.60 L424.85,455.60 Z" fill="#231f20"/>
<rect x="422.5" y="470" width="5.699999999999989" height="42.049999999999955" fill="#8b81c1"/>
<line x1="434.25" y1="504.1" x2="434.25" y2="506.8" stroke="#231f20" stroke-width="1.1"/>
<path d="M432.45,503.80 L436.05,503.80 L434.75,505.50 L433.75,505.50 Z" fill="#231f20"/>
<rect x="431.7" y="507.1" width="5.099999999999989" height="4.949999999999943" fill="#67a53f" stroke="#58992f" stroke-width="0.6"/>
<line x1="448.4" y1="512.8" x2="448.4" y2="515.8" stroke="#231f20" stroke-width="1"/>
<line x1="444.54999999999995" y1="458.3" x2="444.54999999999995" y2="471.2" stroke="#231f20" stroke-width="1.1"/>
<path d="M442.75,458.00 L446.35,458.00 L445.05,459.70 L444.05,459.70 Z" fill="#231f20"/>
<rect x="441.7" y="471.2" width="5.699999999999989" height="40.849999999999966" fill="#8b81c1"/>
<line x1="453.44999999999993" y1="485.2" x2="453.44999999999993" y2="492" stroke="#231f20" stroke-width="1.1"/>
<path d="M451.65,484.90 L455.25,484.90 L453.95,486.60 L452.95,486.60 Z" fill="#231f20"/>
<rect x="450.9" y="492.3" width="5.099999999999989" height="19.749999999999954" fill="#67a53f" stroke="#58992f" stroke-width="0.6"/>
<line x1="467.6" y1="512.8" x2="467.6" y2="515.8" stroke="#231f20" stroke-width="1"/>
<line x1="463.75" y1="504.1" x2="463.75" y2="507.4" stroke="#231f20" stroke-width="1.1"/>
<path d="M461.95,503.80 L465.55,503.80 L464.25,505.50 L463.25,505.50 Z" fill="#231f20"/>
<rect x="460.90000000000003" y="507.4" width="5.699999999999989" height="4.649999999999977" fill="#8b81c1"/>
<line x1="472.65" y1="510.3" x2="472.65" y2="511.4" stroke="#231f20" stroke-width="1.1"/>
<path d="M470.85,510.00 L474.45,510.00 L473.15,511.70 L472.15,511.70 Z" fill="#231f20"/>
<rect x="470.1" y="511.7" width="5.099999999999989" height="0.3499999999999773" fill="#67a53f" stroke="#58992f" stroke-width="0.6"/>
<line x1="425.2" y1="446.2" x2="435.3" y2="446.2" stroke="#231f20" stroke-width="1.1"/>
<circle cx="428.1" cy="441.2" r="1.15" fill="#1a1a1a"/><circle cx="432.1" cy="441.2" r="1.15" fill="#1a1a1a"/>
<line x1="446.4" y1="446.2" x2="456.9" y2="446.2" stroke="#231f20" stroke-width="1.1"/>
<text x="438" y="444.5" font-size="8.97" text-anchor="start" fill="#231f20" font-weight="normal" stroke="#231f20" stroke-width="0.18" textLength="30.6" lengthAdjust="spacingAndGlyphs">P=0.056</text>
<text x="390.8" y="527" font-size="8.97" text-anchor="middle" fill="#231f20" font-weight="normal" stroke="#231f20" stroke-width="0.18" textLength="10.84" lengthAdjust="spacingAndGlyphs">0m</text>
<text x="410.0" y="527" font-size="8.97" text-anchor="middle" fill="#231f20" font-weight="normal" stroke="#231f20" stroke-width="0.18" textLength="10.84" lengthAdjust="spacingAndGlyphs">5m</text>
<text x="429.2" y="527" font-size="8.97" text-anchor="middle" fill="#231f20" font-weight="normal" stroke="#231f20" stroke-width="0.18" textLength="15.17" lengthAdjust="spacingAndGlyphs">60m</text>
<text x="448.4" y="527" font-size="8.97" text-anchor="middle" fill="#231f20" font-weight="normal" stroke="#231f20" stroke-width="0.18" textLength="13.01" lengthAdjust="spacingAndGlyphs">24h</text>
<text x="467.6" y="527" font-size="8.97" text-anchor="middle" fill="#231f20" font-weight="normal" stroke="#231f20" stroke-width="0.18" textLength="17.78" lengthAdjust="spacingAndGlyphs">T101</text>
<text x="468.4" y="536.5" font-size="8.97" text-anchor="middle" fill="#231f20" font-weight="normal" stroke="#231f20" stroke-width="0.18" textLength="13.01" lengthAdjust="spacingAndGlyphs">24h</text>
<text transform="translate(349.6,476) rotate(-90)" x="0" y="0" font-size="9.2" text-anchor="middle" fill="#231f20" stroke="#231f20" stroke-width="0.18" textLength="19.2" lengthAdjust="spacingAndGlyphs">HMW</text>
<text transform="translate(361,475.8) rotate(-90)" x="0" y="0" font-size="9.2" text-anchor="middle" fill="#231f20" stroke="#231f20" stroke-width="0.18" textLength="69" lengthAdjust="spacingAndGlyphs">&#945;2-antiplasmin (%)</text>
<rect x="146" y="213.7" width="126" height="34" fill="#cccccc"/>
<g clip-path="url(#clipF)">
<rect x="158.3" y="229" width="24.69999999999999" height="16.5" rx="2" fill="#8a8a8a" fill-opacity="1" filter="url(#b1)"/>
<rect x="158.3" y="228.85000000000002" width="24.899999999999977" height="3.9" rx="1.95" fill="#262626" fill-opacity="1" filter="url(#b1)"/>
<rect x="158" y="234.4" width="24.5" height="2.0" rx="1.0" fill="#333" fill-opacity="0.85" filter="url(#b1)"/>
<rect x="157.8" y="237.5" width="24.19999999999999" height="2.0" rx="1.0" fill="#333" fill-opacity="0.85" filter="url(#b1)"/>
<rect x="157.6" y="240.6" width="23.900000000000006" height="2.2" rx="1.1" fill="#333" fill-opacity="0.85" filter="url(#b1)"/>
<rect x="158" y="243.6" width="22.599999999999994" height="1.6" rx="0.8" fill="#444" fill-opacity="0.5" filter="url(#b1)"/>
<ellipse cx="209" cy="235" rx="13" ry="9" fill="url(#rg)"/>
<ellipse cx="245" cy="237" rx="14" ry="10.5" fill="url(#rg2)"/>
<rect x="233.5" y="227.39999999999998" width="23.0" height="3.6" rx="1.8" fill="#333" fill-opacity="0.3" filter="url(#b2)"/>
<path d="M240,231 L256.5,227 L256.5,230.2 L240,232.6 Z" fill="#222" fill-opacity="0.45" filter="url(#b2)"/>
<ellipse cx="246" cy="240" rx="9" ry="4" fill="url(#rg)"/>
</g>
<text x="128.2" y="211.4" font-size="8.21" text-anchor="start" fill="#000" font-weight="bold" stroke="#000" stroke-width="0.18" textLength="16.3" lengthAdjust="spacingAndGlyphs">kDa</text>
<text x="141.2" y="221" font-size="8.97" text-anchor="end" fill="#231f20" font-weight="normal" stroke="#231f20" stroke-width="0.18" textLength="12.6" lengthAdjust="spacingAndGlyphs">100</text>
<text x="141.6" y="241.7" font-size="8.97" text-anchor="end" fill="#231f20" font-weight="normal" stroke="#231f20" stroke-width="0.18" textLength="9.6" lengthAdjust="spacingAndGlyphs">75</text>
<text x="170.4" y="208.6" font-size="8.42" text-anchor="middle" fill="#8b81c1" font-weight="bold" stroke="#8b81c1" stroke-width="0.18" textLength="14.1" lengthAdjust="spacingAndGlyphs">Unt</text>
<text x="205.1" y="208.6" font-size="8.42" text-anchor="middle" fill="#5ba32f" font-weight="bold" stroke="#5ba32f" stroke-width="0.18" textLength="30.2" lengthAdjust="spacingAndGlyphs">siFXIIIB</text>
<text x="241.8" y="208.6" font-size="8.42" text-anchor="middle" fill="#e8b40a" font-weight="bold" stroke="#e8b40a" stroke-width="0.18" textLength="24.8" lengthAdjust="spacingAndGlyphs">mFXIII</text>
<rect x="51.9" y="326.8" width="97.6" height="89.1" fill="#a2a2a2"/>
<rect x="157.0" y="326.8" width="99.9" height="88.8" fill="#a2a2a2"/>
<g clip-path="url(#clipH)">
<rect x="55.8" y="395" width="18.799999999999997" height="13" rx="1" fill="#161616" fill-opacity="1" filter="url(#b1)"/>
<rect x="57" y="404" width="16.5" height="6.5" rx="1" fill="#2a2a2a" fill-opacity="0.7" filter="url(#b1)"/>
<rect x="76" y="399.2" width="16.700000000000003" height="8.800000000000011" rx="1" fill="#181818" fill-opacity="1" filter="url(#b1)"/>
<rect x="77" y="404" width="15" height="6.300000000000011" rx="1" fill="#2a2a2a" fill-opacity="0.7" filter="url(#b1)"/>
<rect x="95.8" y="398.5" width="20.700000000000003" height="9.0" rx="1" fill="#181818" fill-opacity="1" filter="url(#b1)"/>
<rect x="96.5" y="404" width="18.5" height="5.800000000000011" rx="1" fill="#2a2a2a" fill-opacity="0.7" filter="url(#b1)"/>
<rect x="120.2" y="393.8" width="20.39999999999999" height="12.699999999999989" rx="1" fill="#161616" fill-opacity="1" filter="url(#b1)"/>
<rect x="121" y="403" width="18.5" height="6.300000000000011" rx="1" fill="#2a2a2a" fill-opacity="0.7" filter="url(#b1)"/>
<rect x="80.4" y="373.9" width="14.599999999999994" height="3.0" rx="1.5" fill="#111" fill-opacity="1" filter="url(#b1)"/>
<rect x="99" y="373.0" width="17" height="3.0" rx="1.5" fill="#111" fill-opacity="1" filter="url(#b1)"/>
<rect x="121.4" y="371.79999999999995" width="17.099999999999994" height="3.2" rx="1.6" fill="#111" fill-opacity="1" filter="url(#b1)"/>
<path d="M82,353.8 L82,351.3 L95.9,349.9 L95.9,352.4 Z" fill="#151515" filter="url(#b1)"/>
<path d="M101.6,351.2 L101.6,348.9 L118,348.2 L118,350.5 Z" fill="#151515" filter="url(#b1)"/>
<rect x="83" y="333" width="14.200000000000003" height="13" rx="1" fill="#2e2e2e" fill-opacity="0.55" filter="url(#b1)"/>
<rect x="83" y="334.0" width="14.200000000000003" height="2.8" rx="1.4" fill="#111" fill-opacity="0.75" filter="url(#b1)"/>
<rect x="83" y="337.6" width="14.200000000000003" height="2.4" rx="1.2" fill="#111" fill-opacity="0.65" filter="url(#b1)"/>
<rect x="83" y="341.8" width="14" height="2.8" rx="1.4" fill="#111" fill-opacity="0.75" filter="url(#b1)"/>
<rect x="102" y="330" width="16" height="15.5" rx="1" fill="#2e2e2e" fill-opacity="0.4" filter="url(#b1)"/>
<rect x="102" y="327.5" width="16" height="4.5" rx="1" fill="#333" fill-opacity="0.15" filter="url(#b1)"/>
<rect x="102" y="333.5" width="15" height="1.8" rx="0.9" fill="#111" fill-opacity="0.35" filter="url(#b1)"/>
<rect x="102" y="337.2" width="16" height="2.2" rx="1.1" fill="#111" fill-opacity="0.55" filter="url(#b1)"/>
<rect x="102" y="341.6" width="16" height="2.8" rx="1.4" fill="#111" fill-opacity="0.8" filter="url(#b1)"/>
<rect x="122.8" y="348.70000000000005" width="14.799999999999997" height="1.8" rx="0.9" fill="#111" fill-opacity="0.3" filter="url(#b1)"/>
<rect x="170.6" y="394" width="18.599999999999994" height="11.199999999999989" rx="1" fill="#161616" fill-opacity="1" filter="url(#b1)"/>
<rect x="174.4" y="403" width="13.5" height="6.600000000000023" rx="1" fill="#2a2a2a" fill-opacity="0.55" filter="url(#b1)"/>
<rect x="191.7" y="395" width="18.700000000000017" height="10.399999999999977" rx="1" fill="#181818" fill-opacity="1" filter="url(#b1)"/>
<rect x="213.5" y="394.6" width="17.30000000000001" height="11.199999999999989" rx="1" fill="#181818" fill-opacity="1" filter="url(#b1)"/>
<rect x="234" y="394.6" width="16.400000000000006" height="11.899999999999977" rx="1" fill="#181818" fill-opacity="1" filter="url(#b1)"/>
<rect x="191.3" y="372.90000000000003" width="17.399999999999977" height="2.8" rx="1.4" fill="#111" fill-opacity="0.95" filter="url(#b1)"/>
<rect x="212" y="372.1" width="15.900000000000006" height="2.8" rx="1.4" fill="#111" fill-opacity="0.95" filter="url(#b1)"/>
<rect x="170" y="373.3" width="16.5" height="1.4" rx="0.7" fill="#111" fill-opacity="0.12" filter="url(#b1)"/>
<rect x="232.7" y="373.3" width="14.300000000000011" height="1.4" rx="0.7" fill="#111" fill-opacity="0.15" filter="url(#b1)"/>
<rect x="189.4" y="346.6" width="15.400000000000006" height="2.4" rx="1.2" fill="#111" fill-opacity="1" filter="url(#b1)"/>
<rect x="210" y="346.04999999999995" width="14.599999999999994" height="2.7" rx="1.35" fill="#111" fill-opacity="1" filter="url(#b1)"/>
<rect x="209" y="330" width="15" height="12" rx="1" fill="#222" fill-opacity="0.12" filter="url(#b1)"/>
<rect x="209" y="332.5" width="14" height="2.0" rx="1.0" fill="#111" fill-opacity="0.3" filter="url(#b1)"/>
<rect x="209" y="337.3" width="14.5" height="2.4" rx="1.2" fill="#111" fill-opacity="0.38" filter="url(#b1)"/>
<rect x="189" y="333" width="15" height="9" rx="2" fill="#222" fill-opacity="0.07" filter="url(#b2)"/>
<rect x="189" y="336.6" width="14" height="1.8" rx="0.9" fill="#111" fill-opacity="0.07" filter="url(#b1)"/>
<rect x="211.5" y="361.5" width="14.5" height="1.8" rx="0.9" fill="#111" fill-opacity="0.3" filter="url(#b1)"/>
<rect x="190" y="361.59999999999997" width="15" height="1.6" rx="0.8" fill="#111" fill-opacity="0.05" filter="url(#b1)"/>
</g>
<text x="31.2" y="333.40000000000003" font-size="8.21" text-anchor="start" fill="#000" font-weight="bold" stroke="#000" stroke-width="0.18" textLength="15" lengthAdjust="spacingAndGlyphs">kDa</text>
<text x="46.4" y="349.7" font-size="8.97" text-anchor="end" fill="#231f20" font-weight="normal" stroke="#231f20" stroke-width="0.18" textLength="13.9" lengthAdjust="spacingAndGlyphs">200</text>
<text x="46.4" y="363.3" font-size="8.97" text-anchor="end" fill="#231f20" font-weight="normal" stroke="#231f20" stroke-width="0.18" textLength="13.9" lengthAdjust="spacingAndGlyphs">150</text>
<text x="46.4" y="377.7" font-size="8.97" text-anchor="end" fill="#231f20" font-weight="normal" stroke="#231f20" stroke-width="0.18" textLength="13.9" lengthAdjust="spacingAndGlyphs">100</text>
<text x="46.4" y="388.09999999999997" font-size="8.97" text-anchor="end" fill="#231f20" font-weight="normal" stroke="#231f20" stroke-width="0.18" textLength="9.6" lengthAdjust="spacingAndGlyphs">75</text>
<text x="46.4" y="413.7" font-size="8.97" text-anchor="end" fill="#231f20" font-weight="normal" stroke="#231f20" stroke-width="0.18" textLength="9.6" lengthAdjust="spacingAndGlyphs">50</text>
<text x="101.2" y="307" font-size="9.29" text-anchor="middle" fill="#8b81c1" font-weight="bold" stroke="#8b81c1" stroke-width="0.18" textLength="38.4" lengthAdjust="spacingAndGlyphs">Untreated</text>
<line x1="57.9" y1="311.3" x2="144.5" y2="311.3" stroke="#8b81c1" stroke-width="1"/>
<text x="207.9" y="307" font-size="9.29" text-anchor="middle" fill="#5ba32f" font-weight="bold" stroke="#5ba32f" stroke-width="0.18" textLength="28.3" lengthAdjust="spacingAndGlyphs">siFXIIIB</text>
<line x1="164.4" y1="311.3" x2="251.5" y2="311.3" stroke="#5ba32f" stroke-width="1"/>
<text x="64.4" y="321.4" font-size="9.08" text-anchor="middle" fill="#231f20" font-weight="normal" stroke="#231f20" stroke-width="0.18" textLength="11.0" lengthAdjust="spacingAndGlyphs">UA</text>
<text x="88.30000000000001" y="321.4" font-size="9.08" text-anchor="middle" fill="#231f20" font-weight="normal" stroke="#231f20" stroke-width="0.18" textLength="13.8" lengthAdjust="spacingAndGlyphs">PPP</text>
<text x="109.6" y="321.4" font-size="9.08" text-anchor="middle" fill="#231f20" font-weight="normal" stroke="#231f20" stroke-width="0.18" textLength="14.4" lengthAdjust="spacingAndGlyphs">PRP</text>
<text x="133.85000000000002" y="321.4" font-size="9.08" text-anchor="middle" fill="#231f20" font-weight="normal" stroke="#231f20" stroke-width="0.18" textLength="17.9" lengthAdjust="spacingAndGlyphs">T101</text>
<text x="171.65" y="321.4" font-size="9.08" text-anchor="middle" fill="#231f20" font-weight="normal" stroke="#231f20" stroke-width="0.18" textLength="11.5" lengthAdjust="spacingAndGlyphs">UA</text>
<text x="194.75" y="321.4" font-size="9.08" text-anchor="middle" fill="#231f20" font-weight="normal" stroke="#231f20" stroke-width="0.18" textLength="14.5" lengthAdjust="spacingAndGlyphs">PPP</text>
<text x="216.25" y="321.4" font-size="9.08" text-anchor="middle" fill="#231f20" font-weight="normal" stroke="#231f20" stroke-width="0.18" textLength="14.5" lengthAdjust="spacingAndGlyphs">PRP</text>
<text x="240.85" y="321.4" font-size="9.08" text-anchor="middle" fill="#231f20" font-weight="normal" stroke="#231f20" stroke-width="0.18" textLength="17.3" lengthAdjust="spacingAndGlyphs">T101</text>
<path d="M262.4,329.4 H267.9 V363.2 H262.4" fill="none" stroke="#111" stroke-width="1"/>
<text x="270.8" y="350.3" font-size="9.89" text-anchor="start" fill="#231f20" font-weight="normal" stroke="#231f20" stroke-width="0.18" textLength="20.9" lengthAdjust="spacingAndGlyphs">HMW</text>
<path d="M258.5,373.6 L266.3,370.6 L264.0,373.6 L266.3,376.6 Z" fill="#000"/>
<text x="267.1" y="376.3" font-size="9.66" text-anchor="start" fill="#333" font-weight="normal" stroke="#333" stroke-width="0.18" textLength="11" lengthAdjust="spacingAndGlyphs">&#947;&#8211;&#947;</text>
<path d="M258.5,400.3 L266.3,397.3 L264.0,400.3 L266.3,403.3 Z" fill="#000"/>
<text x="267.7" y="403.8" font-size="9.77" text-anchor="start" fill="#231f20" font-weight="normal" stroke="#231f20" stroke-width="0.18" textLength="39.2" lengthAdjust="spacingAndGlyphs">Fibrinogen</text>
<text x="267.7" y="413.2" font-size="9.77" text-anchor="start" fill="#231f20" font-weight="normal" stroke="#231f20" stroke-width="0.18" textLength="30" lengthAdjust="spacingAndGlyphs">(52 kDa)</text>
<rect x="51.9" y="440.8" width="97.6" height="89.4" fill="#a4a4a4"/>
<rect x="157.0" y="440.9" width="99.7" height="89.4" fill="#a4a4a4"/>
<g clip-path="url(#clipI)">
<rect x="66.3" y="455.65000000000003" width="14.5" height="2.3" rx="1.15" fill="#0e0e0e" fill-opacity="1" filter="url(#b1)"/>
<rect x="66.3" y="473.75" width="14.5" height="1.7" rx="0.85" fill="#141414" fill-opacity="1" filter="url(#b1)"/>
<path d="M57.3,497 Q58,495.2 62,495.4 L80,495.6 Q82.7,496 82.7,499 L82,512 Q80,521 76,522.5 L64,522.5 Q60,520 59,512 Z" fill="#161616" filter="url(#b1)"/>
<rect x="86.3" y="441.2" width="12.900000000000006" height="20.600000000000023" rx="1" fill="#4a4a4a" fill-opacity="1" filter="url(#b1)"/>
<rect x="86.3" y="444.3" width="12.900000000000006" height="9.899999999999977" rx="1" fill="#262626" fill-opacity="1" filter="url(#b1)"/>
<rect x="86.3" y="455.6" width="12.900000000000006" height="5.599999999999966" rx="1" fill="#2a2a2a" fill-opacity="1" filter="url(#b1)"/>
<rect x="96.8" y="438.79999999999995" width="3.0" height="2.2" rx="1.1" fill="#111" fill-opacity="1" filter="url(#b1)"/>
<rect x="86.5" y="476.79999999999995" width="12.900000000000006" height="3.2" rx="1.6" fill="#0e0e0e" fill-opacity="1" filter="url(#b1)"/>
<rect x="84.2" y="498.7" width="16.799999999999997" height="22.099999999999966" rx="1.5" fill="#161616" fill-opacity="1" filter="url(#b1)"/>
<rect x="85" y="513.4" width="15" height="1.2" rx="0.6" fill="#777" fill-opacity="0.3" filter="url(#b1)"/>
<rect x="85" y="516.7" width="15" height="1.0" rx="0.5" fill="#777" fill-opacity="0.25" filter="url(#b1)"/>
<rect x="106.4" y="441.2" width="14.5" height="19.80000000000001" rx="1" fill="#5e5e5e" fill-opacity="1" filter="url(#b1)"/>
<rect x="106.4" y="444.3" width="14.5" height="7.5" rx="1" fill="#282828" fill-opacity="1" filter="url(#b1)"/>
<rect x="106.4" y="452.95" width="14.5" height="1.7" rx="0.85" fill="#2a2a2a" fill-opacity="1" filter="url(#b1)"/>
<rect x="106.4" y="455.95" width="14.5" height="1.7" rx="0.85" fill="#2a2a2a" fill-opacity="1" filter="url(#b1)"/>
<rect x="106.4" y="458.95" width="14.5" height="1.7" rx="0.85" fill="#2a2a2a" fill-opacity="1" filter="url(#b1)"/>
<rect x="105.8" y="475.90000000000003" width="14.600000000000009" height="2.8" rx="1.4" fill="#0e0e0e" fill-opacity="1" filter="url(#b1)"/>
<rect x="103" y="498.5" width="18.200000000000003" height="12.5" rx="2" fill="#181818" fill-opacity="1" filter="url(#b1)"/>
<rect x="104" y="514.1" width="15" height="3.0" rx="1.5" fill="#1e1e1e" fill-opacity="1" filter="url(#b1)"/>
<rect x="104" y="507.7" width="16.5" height="1.2" rx="0.6" fill="#888" fill-opacity="0.25" filter="url(#b1)"/>
<rect x="127" y="456.2" width="14.300000000000011" height="1.6" rx="0.8" fill="#111" fill-opacity="0.25" filter="url(#b1)"/>
<path d="M123.7,499.5 Q124,497.3 127,497.3 L143,497.3 Q146.2,497.5 146.2,500.5 L146,509 Q145.2,514 141.5,515.5 L140.4,520.8 L126,520.8 L125.5,515.5 Q123.7,513 123.7,509 Z" fill="#161616" filter="url(#b1)"/>
<rect x="171.9" y="456.2" width="14.199999999999989" height="2.2" rx="1.1" fill="#111" fill-opacity="0.95" filter="url(#b1)"/>
<rect x="173.7" y="473.6" width="15.5" height="1.4" rx="0.7" fill="#111" fill-opacity="0.2" filter="url(#b1)"/>
<path d="M170.8,499 Q171,496.6 175,496.6 L190,496.6 Q193.4,497 193.4,500 L192,512 Q190,521.8 185,521.8 L178,521.8 Q173,520 172,512 Z" fill="#161616" filter="url(#b1)"/>
<rect x="193.6" y="447.95" width="12.900000000000006" height="1.5" rx="0.75" fill="#111" fill-opacity="0.45" filter="url(#b1)"/>
<rect x="193.6" y="455.54999999999995" width="13.800000000000011" height="1.7" rx="0.85" fill="#111" fill-opacity="0.6" filter="url(#b1)"/>
<rect x="194.4" y="458.70000000000005" width="13.900000000000006" height="1.8" rx="0.9" fill="#111" fill-opacity="0.75" filter="url(#b1)"/>
<rect x="202" y="458.8" width="6.300000000000011" height="1.6" rx="0.8" fill="#111" fill-opacity="0.5" filter="url(#b1)"/>
<rect x="195.3" y="475.8" width="14.399999999999977" height="2.8" rx="1.4" fill="#111" fill-opacity="1" filter="url(#b1)"/>
<rect x="193.4" y="497.5" width="20.19999999999999" height="22.5" rx="2" fill="#181818" fill-opacity="1" filter="url(#b1)"/>
<rect x="213.5" y="447.84999999999997" width="12.900000000000006" height="1.7" rx="0.85" fill="#111" fill-opacity="0.7" filter="url(#b1)"/>
<rect x="213.8" y="454.75" width="13.699999999999989" height="1.7" rx="0.85" fill="#111" fill-opacity="0.5" filter="url(#b1)"/>
<rect x="213.8" y="458.65000000000003" width="13.899999999999977" height="1.9" rx="0.95" fill="#111" fill-opacity="0.85" filter="url(#b1)"/>
<rect x="222" y="458.8" width="5.699999999999989" height="1.6" rx="0.8" fill="#111" fill-opacity="0.5" filter="url(#b1)"/>
<rect x="215.2" y="475.5" width="14.200000000000017" height="2.8" rx="1.4" fill="#111" fill-opacity="1" filter="url(#b1)"/>
<rect x="214.6" y="498.5" width="18.400000000000006" height="20.0" rx="1.5" fill="#161616" fill-opacity="1" filter="url(#b1)"/>
<rect x="215.5" y="512.0" width="16.5" height="1.0" rx="0.5" fill="#777" fill-opacity="0.3" filter="url(#b1)"/>
<rect x="215.5" y="515.0" width="16.5" height="1.0" rx="0.5" fill="#777" fill-opacity="0.25" filter="url(#b1)"/>
<path d="M234.2,456.4 L234.2,454.6 L247.2,453.6 L247.2,455.4 Z" fill="#1a1a1a" fill-opacity="0.8" filter="url(#b1)"/>
<rect x="234.2" y="471.9" width="13.0" height="1.2" rx="0.6" fill="#111" fill-opacity="0.12" filter="url(#b1)"/>
<rect x="233.4" y="497" width="19.599999999999994" height="23" rx="3" fill="#161616" fill-opacity="1" filter="url(#b1)"/>
</g>
<text x="31.2" y="449.6" font-size="8.21" text-anchor="start" fill="#000" font-weight="bold" stroke="#000" stroke-width="0.18" textLength="15" lengthAdjust="spacingAndGlyphs">kDa</text>
<text x="46.4" y="460.7" font-size="8.97" text-anchor="end" fill="#231f20" font-weight="normal" stroke="#231f20" stroke-width="0.18" textLength="13.9" lengthAdjust="spacingAndGlyphs">200</text>
<text x="46.4" y="473.7" font-size="8.97" text-anchor="end" fill="#231f20" font-weight="normal" stroke="#231f20" stroke-width="0.18" textLength="13.9" lengthAdjust="spacingAndGlyphs">150</text>
<text x="46.4" y="488.5" font-size="8.97" text-anchor="end" fill="#231f20" font-weight="normal" stroke="#231f20" stroke-width="0.18" textLength="13.9" lengthAdjust="spacingAndGlyphs">100</text>
<text x="46.4" y="498.3" font-size="8.97" text-anchor="end" fill="#231f20" font-weight="normal" stroke="#231f20" stroke-width="0.18" textLength="9.6" lengthAdjust="spacingAndGlyphs">75</text>
<text x="46.4" y="525.1" font-size="8.97" text-anchor="end" fill="#231f20" font-weight="normal" stroke="#231f20" stroke-width="0.18" textLength="9.6" lengthAdjust="spacingAndGlyphs">50</text>
<path d="M262.3,443.7 H267.8 V473.8 H262.3" fill="none" stroke="#111" stroke-width="1"/>
<text x="270.2" y="462" font-size="9.89" text-anchor="start" fill="#231f20" font-weight="normal" stroke="#231f20" stroke-width="0.18" textLength="20.9" lengthAdjust="spacingAndGlyphs">HMW</text>
<path d="M258.4,503 L266.2,500 L263.9,503 L266.2,506 Z" fill="#000"/>
<text x="266.3" y="506.2" font-size="9.77" text-anchor="start" fill="#231f20" font-weight="normal" stroke="#231f20" stroke-width="0.18" textLength="55.47" lengthAdjust="spacingAndGlyphs">&#945;2-antiplasmin</text>
<text x="267.5" y="515.2" font-size="9.77" text-anchor="start" fill="#231f20" font-weight="normal" stroke="#231f20" stroke-width="0.18" textLength="29.5" lengthAdjust="spacingAndGlyphs">(70 kDa)</text>
</g>
<rect x="0.5" y="0.5" width="519" height="544" fill="none" stroke="#000" stroke-width="1"/>
</svg>
</body></html>
